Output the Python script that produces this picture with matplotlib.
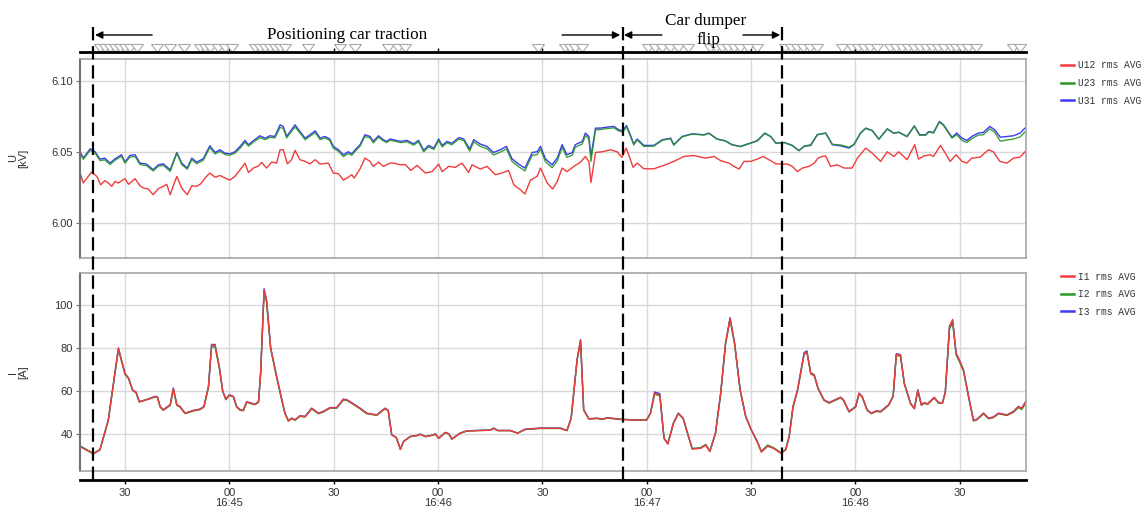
import matplotlib
matplotlib.use("Agg")
import matplotlib.pyplot as plt
from matplotlib.lines import Line2D
from matplotlib.markers import MarkerStyle
from matplotlib.transforms import Affine2D, blended_transform_factory


# time axis: seconds after 16:44:00
T_START, T_END = 17.06, 289.1
TICKS = [30, 60, 90, 120, 150, 180, 210, 240, 270]
TICK_LABELS = ["30", "00\n16:45", "30", "00\n16:46", "30", "00\n16:47",
               "30", "00\n16:48", "30"]
PHASE_LINES = [20.8, 173.1, 218.8]

# event markers on the strip above the voltage panel
EVENTS = [22.8, 24.3, 25.7, 27.1, 28.6, 30.0, 31.5, 33.5,
          39.2, 42.9, 47.0,
          51.6, 53.0, 54.4, 56.7, 58.8, 60.8,
          67.4, 68.8, 70.3, 71.7, 73.1, 74.6, 76.0,
          82.6, 91.8, 96.1, 105.6, 108.5, 110.5,
          148.8, 156.5, 158.0, 159.4, 161.4,
          180.4, 182.4, 184.4, 186.7, 189.0, 191.9,
          198.2, 199.9, 201.7, 203.4, 205.1, 206.9, 209.2, 211.8,
          219.8, 221.5, 223.3, 225.0, 227.0, 229.0,
          236.2, 239.0, 240.8, 242.5, 244.2, 246.3,
          250.0, 251.8, 253.5, 255.2, 257.0, 258.7, 260.4, 262.2,
          263.9, 265.6, 267.4, 269.1, 270.8, 272.5, 274.6,
          285.4, 287.4]

# voltage U12 [kV]
U12_T = [17.1, 18.0, 20.4, 21.9, 23.0, 24.2, 25.2, 26.2, 27.1, 28.1, 30.0, 31.0,
         32.9, 34.3, 35.3, 36.7, 38.1, 39.6, 41.0, 42.0, 43.0, 44.1, 44.9, 46.3,
         47.9, 49.2, 50.6, 51.8, 53.0, 54.4, 55.9, 57.3, 58.8, 60.2, 61.6, 63.1,
         64.5, 65.5, 66.9, 68.4, 69.3, 70.7, 72.2, 73.6, 74.6, 75.5, 76.7, 77.9,
         78.9, 80.3, 81.8, 83.2, 84.7, 86.1, 88.5, 89.9, 91.4, 92.8, 94.2, 95.2,
         95.9, 97.6, 99.0, 100.5, 101.4, 102.9, 104.3, 106.2, 107.2, 109.2, 110.6,
         112.2, 114.0, 116.4, 118.3, 120.2, 121.2, 123.1, 125.0, 126.9, 128.8,
         129.8, 132.2, 134.1, 136.5, 138.4, 140.3, 141.8, 143.7, 145.0, 146.6,
         148.5, 149.5, 151.4, 153.0, 154.3, 155.7, 157.1, 159.1, 161.0, 162.4,
         163.4, 164.0, 165.3, 167.2, 169.6, 171.5, 172.9, 174.1, 175.2, 176.1,
         177.3, 179.2, 182.1, 185.0, 187.8, 190.7, 193.6, 196.9, 199.4, 201.3,
         203.7, 205.1, 206.6, 208.0, 209.9, 211.8, 213.5, 215.7, 217.2, 218.6,
         220.5, 221.9, 223.4, 224.8, 226.7, 228.2, 229.3, 230.5, 231.5, 232.9,
         234.8, 236.8, 239.1, 240.6, 243.0, 244.9, 247.3, 249.2, 251.1, 252.5,
         254.9, 257.1, 258.2, 259.7, 261.6, 262.5, 264.5, 265.9, 267.3, 269.0,
         270.7, 272.1, 273.5, 275.9, 278.3, 279.7, 281.6, 283.6, 285.5, 287.4,
         288.8]
U12 = [6.0350, 6.0280, 6.0357, 6.0326, 6.0267, 6.0296, 6.0280, 6.0256, 6.0290,
       6.0280, 6.0310, 6.0270, 6.0310, 6.0260, 6.0244, 6.0237, 6.0197, 6.0240,
       6.0256, 6.0270, 6.0197, 6.0274, 6.0326, 6.0244, 6.0197, 6.0260, 6.0256,
       6.0274, 6.0314, 6.0350, 6.0320, 6.0333, 6.0314, 6.0300, 6.0326, 6.0373,
       6.0420, 6.0354, 6.0385, 6.0400, 6.0425, 6.0385, 6.0427, 6.0420, 6.0514,
       6.0514, 6.0415, 6.0444, 6.0510, 6.0444, 6.0432, 6.0415, 6.0444, 6.0413,
       6.0420, 6.0350, 6.0345, 6.0300, 6.0320, 6.0338, 6.0314, 6.0380, 6.0455,
       6.0432, 6.0397, 6.0427, 6.0397, 6.0420, 6.0420, 6.0408, 6.0410, 6.0368,
       6.0404, 6.0350, 6.0360, 6.0413, 6.0360, 6.0397, 6.0390, 6.0420, 6.0354,
       6.0408, 6.0378, 6.0397, 6.0338, 6.0350, 6.0368, 6.0267, 6.0232, 6.0202,
       6.0300, 6.0326, 6.0385, 6.0280, 6.0237, 6.0290, 6.0385, 6.0360, 6.0397,
       6.0427, 6.0467, 6.0432, 6.0283, 6.0495, 6.0500, 6.0514, 6.0500, 6.0460,
       6.0526, 6.0455, 6.0390, 6.0420, 6.0380, 6.0380, 6.0404, 6.0432, 6.0467,
       6.0474, 6.0455, 6.0467, 6.0437, 6.0420, 6.0397, 6.0378, 6.0432, 6.0432,
       6.0448, 6.0467, 6.0437, 6.0415, 6.0413, 6.0413, 6.0397, 6.0360, 6.0385,
       6.0397, 6.0420, 6.0455, 6.0467, 6.0470, 6.0397, 6.0408, 6.0385, 6.0385,
       6.0455, 6.0526, 6.0490, 6.0432, 6.0500, 6.0467, 6.0500, 6.0444, 6.0550,
       6.0448, 6.0470, 6.0479, 6.0467, 6.0545, 6.0490, 6.0432, 6.0479, 6.0432,
       6.0420, 6.0455, 6.0462, 6.0514, 6.0500, 6.0432, 6.0420, 6.0455, 6.0462,
       6.0500]

# voltage U23 and U31 [kV], read at the same instants
U_T = [17.1, 18.0, 20.0, 21.4, 22.8, 24.2, 25.7, 27.1, 29.0, 30.0, 31.4, 32.9,
       34.3, 36.2, 38.1, 39.6, 41.0, 43.0, 44.9, 46.3, 47.9, 49.2, 50.6, 52.5,
       54.4, 55.9, 57.3, 58.8, 60.2, 61.6, 63.1, 64.5, 65.5, 66.9, 68.8, 70.3,
       71.7, 73.1, 74.6, 75.5, 76.5, 77.5, 78.9, 80.3, 81.8, 83.2, 84.7, 86.1,
       87.5, 88.9, 89.9, 91.4, 92.8, 94.2, 95.2, 96.2, 97.6, 99.0, 100.5, 101.4,
       102.9, 104.3, 105.3, 106.2, 107.2, 109.2, 111.1, 113.0, 114.4, 115.9,
       117.3, 118.8, 120.2, 121.2, 122.6, 124.0, 126.0, 127.4, 129.1, 130.3,
       132.2, 134.1, 136.0, 137.9, 139.7, 141.3, 143.2, 145.0, 147.1, 148.5,
       149.5, 150.9, 152.8, 154.3, 155.7, 157.1, 158.6, 159.5, 161.5, 162.4,
       163.4, 164.0, 165.3, 166.7, 168.6, 170.6, 172.0, 173.2, 174.2, 175.3,
       176.3, 177.3, 179.2, 182.1, 184.5, 186.9, 187.8, 190.2, 193.1, 196.5,
       197.9, 200.3, 202.6, 204.6, 207.0, 208.9, 211.8, 214.0, 215.7, 217.2,
       219.6, 221.9, 223.8, 225.3, 227.2, 229.1, 231.5, 233.4, 235.8, 238.2,
       239.6, 241.5, 243.0, 244.9, 246.8, 249.2, 251.1, 252.5, 254.9, 257.0,
       258.5, 260.2, 261.1, 262.5, 264.2, 265.4, 267.8, 269.2, 270.7, 272.1,
       273.5, 275.4, 276.8, 278.7, 280.1, 281.7, 283.6, 285.5, 287.4, 288.8]
U31 = [6.0500, 6.0455, 6.0521, 6.0500, 6.0448, 6.0455, 6.0420, 6.0450, 6.0479,
       6.0427, 6.0474, 6.0479, 6.0420, 6.0413, 6.0373, 6.0408, 6.0415, 6.0373,
       6.0495, 6.0420, 6.0385, 6.0455, 6.0427, 6.0450, 6.0542, 6.0495, 6.0514,
       6.0490, 6.0486, 6.0500, 6.0538, 6.0580, 6.0550, 6.0578, 6.0613, 6.0596,
       6.0613, 6.0608, 6.0690, 6.0679, 6.0608, 6.0643, 6.0690, 6.0643, 6.0596,
       6.0620, 6.0648, 6.0596, 6.0608, 6.0590, 6.0538, 6.0514, 6.0479, 6.0500,
       6.0486, 6.0514, 6.0550, 6.0620, 6.0608, 6.0573, 6.0613, 6.0585, 6.0573,
       6.0590, 6.0585, 6.0573, 6.0580, 6.0556, 6.0580, 6.0510, 6.0545, 6.0526,
       6.0590, 6.0545, 6.0573, 6.0560, 6.0600, 6.0590, 6.0520, 6.0585, 6.0554,
       6.0538, 6.0495, 6.0514, 6.0538, 6.0450, 6.0413, 6.0385, 6.0495, 6.0500,
       6.0538, 6.0450, 6.0408, 6.0455, 6.0550, 6.0479, 6.0495, 6.0550, 6.0573,
       6.0632, 6.0608, 6.0467, 6.0667, 6.0667, 6.0674, 6.0679, 6.0655, 6.0648,
       6.0686, 6.0620, 6.0556, 6.0590, 6.0545, 6.0545, 6.0585, 6.0596, 6.0550,
       6.0608, 6.0627, 6.0620, 6.0632, 6.0590, 6.0578, 6.0550, 6.0538, 6.0554,
       6.0578, 6.0632, 6.0608, 6.0561, 6.0566, 6.0545, 6.0509, 6.0538, 6.0545,
       6.0620, 6.0632, 6.0550, 6.0542, 6.0526, 6.0550, 6.0632, 6.0667, 6.0650,
       6.0590, 6.0662, 6.0632, 6.0639, 6.0608, 6.0683, 6.0620, 6.0620, 6.0643,
       6.0636, 6.0714, 6.0690, 6.0603, 6.0632, 6.0596, 6.0580, 6.0608, 6.0632,
       6.0636, 6.0679, 6.0655, 6.0603, 6.0608, 6.0613, 6.0632, 6.0667]
U23 = [6.0492, 6.0447, 6.0510, 6.0492, 6.0438, 6.0443, 6.0410, 6.0440, 6.0468,
       6.0420, 6.0462, 6.0466, 6.0410, 6.0402, 6.0365, 6.0398, 6.0404, 6.0362,
       6.0490, 6.0410, 6.0377, 6.0445, 6.0416, 6.0440, 6.0530, 6.0485, 6.0503,
       6.0480, 6.0476, 6.0490, 6.0525, 6.0568, 6.0540, 6.0567, 6.0600, 6.0586,
       6.0602, 6.0598, 6.0672, 6.0665, 6.0598, 6.0632, 6.0675, 6.0633, 6.0585,
       6.0610, 6.0635, 6.0586, 6.0598, 6.0580, 6.0525, 6.0503, 6.0466, 6.0488,
       6.0475, 6.0503, 6.0540, 6.0608, 6.0598, 6.0563, 6.0603, 6.0577, 6.0565,
       6.0582, 6.0577, 6.0565, 6.0571, 6.0547, 6.0571, 6.0500, 6.0535, 6.0516,
       6.0580, 6.0535, 6.0563, 6.0550, 6.0590, 6.0580, 6.0505, 6.0570, 6.0538,
       6.0522, 6.0478, 6.0497, 6.0520, 6.0432, 6.0395, 6.0365, 6.0476, 6.0480,
       6.0518, 6.0430, 6.0388, 6.0435, 6.0530, 6.0460, 6.0476, 6.0532, 6.0555,
       6.0615, 6.0592, 6.0432, 6.0655, 6.0657, 6.0664, 6.0669, 6.0646, 6.0640,
       6.0678, 6.0612, 6.0548, 6.0583, 6.0538, 6.0540, 6.0581, 6.0593, 6.0547,
       6.0605, 6.0625, 6.0618, 6.0630, 6.0588, 6.0576, 6.0548, 6.0536, 6.0552,
       6.0576, 6.0630, 6.0606, 6.0559, 6.0564, 6.0543, 6.0507, 6.0540, 6.0550,
       6.0622, 6.0632, 6.0553, 6.0548, 6.0532, 6.0552, 6.0630, 6.0665, 6.0648,
       6.0588, 6.0660, 6.0630, 6.0637, 6.0606, 6.0681, 6.0616, 6.0616, 6.0640,
       6.0632, 6.0710, 6.0685, 6.0597, 6.0620, 6.0580, 6.0565, 6.0592, 6.0618,
       6.0620, 6.0662, 6.0638, 6.0575, 6.0583, 6.0590, 6.0605, 6.0640]

# phase currents [A]
I_T = [17.1, 20.9, 22.8, 25.2, 28.1, 30.0, 31.0, 32.2, 33.2, 34.1, 36.2, 38.6,
       39.3, 40.1, 41.0, 43.0, 43.9, 44.9, 45.8, 47.3, 49.7, 51.6, 52.7, 54.0,
       54.9, 55.9, 57.1, 58.1, 59.0, 60.0, 61.2, 62.1, 63.1, 64.0, 65.0, 66.4,
       67.4, 68.4, 69.0, 70.0, 70.7, 71.9, 73.6, 75.1, 76.0, 77.0, 77.9, 78.9,
       80.3, 81.8, 83.7, 85.6, 87.0, 89.0, 90.9, 92.8, 93.8, 95.7, 97.6, 99.5,
       102.4, 104.8, 105.7, 106.7, 108.0, 109.2, 110.1, 112.0, 114.0, 114.9,
       116.4, 118.8, 119.2, 120.2, 122.1, 123.1, 124.0, 126.4, 128.3, 131.2,
       135.1, 136.0, 137.2, 140.8, 142.9, 145.1, 149.5, 155.2, 157.1, 158.3,
       160.0, 161.0, 161.9, 163.4, 165.8, 167.2, 168.7, 172.5, 176.3, 180.0,
       181.1, 182.3, 183.8, 185.0, 186.1, 187.7, 189.1, 190.5, 193.1, 195.5,
       197.0, 198.2, 199.8, 201.3, 202.7, 204.0, 205.3, 206.9, 208.5, 210.1,
       211.8, 213.0, 214.8, 216.5, 218.6, 220.0, 221.0, 222.1, 223.4, 225.3,
       226.1, 227.2, 228.2, 229.3, 231.0, 232.5, 235.8, 236.6, 238.2, 240.1,
       241.1, 242.0, 243.4, 244.6, 246.1, 247.3, 249.6, 250.9, 251.8, 253.0,
       254.1, 255.9, 257.0, 258.0, 259.0, 259.9, 260.8, 262.7, 264.0, 265.1,
       265.9, 267.1, 268.0, 269.0, 269.9, 271.1, 272.6, 274.0, 275.0, 276.9,
       278.3, 279.7, 281.2, 283.6, 285.5, 286.9, 287.9, 289.1]
I1 = [34.3, 30.9, 32.8, 46.6, 79.8, 68.0, 66.0, 60.5, 59.4, 55.0, 56.0, 57.4,
      57.4, 52.8, 51.3, 53.6, 61.3, 53.6, 52.8, 49.7, 51.0, 51.6, 52.8, 62.0,
      81.3, 81.3, 71.3, 60.0, 56.2, 58.2, 57.4, 52.8, 51.3, 51.0, 55.0, 54.3,
      53.9, 55.0, 68.2, 106.8, 102.0, 79.8, 66.7, 55.9, 49.7, 46.2, 47.4, 46.6,
      48.5, 48.2, 52.0, 49.7, 50.5, 52.3, 52.3, 56.2, 55.9, 54.0, 52.0, 49.7,
      48.9, 52.0, 51.0, 39.7, 38.5, 33.0, 36.6, 38.9, 39.4, 40.0,
      38.9, 39.7, 40.2, 38.1, 40.8, 40.2, 37.7, 40.5, 41.5, 41.7,
      41.9, 42.8, 41.7, 41.7, 40.5, 42.3, 42.8, 42.8, 41.7, 47.4,
      74.4, 83.6, 51.3, 47.1, 47.4, 46.9, 47.6, 46.9, 46.6, 46.6,
      49.7, 59.0, 58.2, 38.1, 35.5, 45.1, 49.7, 47.4, 33.2, 33.5,
      35.0, 32.0, 40.5, 59.0, 82.1, 93.7, 82.1, 60.5, 48.2, 42.0,
      36.6, 31.8, 34.5, 33.5, 31.2, 32.8, 38.9, 52.8, 60.5, 77.5,
      78.2, 68.2, 67.4, 61.3, 55.9, 54.6, 57.1, 55.9, 50.5, 52.8,
      59.0, 57.4, 51.3, 49.7, 50.8, 50.5, 53.6, 57.7, 77.0, 76.7,
      63.6, 54.3, 52.0, 60.5, 53.6, 54.6, 54.0, 57.0, 54.6, 54.6,
      59.7, 89.8, 93.2, 77.5, 74.4, 69.8, 57.4, 46.3, 46.9, 49.7,
      47.4, 47.9, 49.7, 48.9, 50.5, 52.8, 52.0, 55.3]
I2 = [34.6, 31.2, 32.9, 46.4, 79.2, 67.6, 65.8, 60.3, 59.2, 55.0, 56.0, 57.2,
      57.2, 52.6, 51.1, 53.4, 60.8, 53.4, 52.6, 49.6, 50.8, 51.4, 52.6, 61.6,
      80.6, 80.4, 70.8, 59.8, 56.0, 58.0, 57.2, 52.6, 51.1, 50.9, 54.8, 54.1,
      53.7, 54.8, 67.8, 105.8, 101.2, 79.4, 66.5, 55.7, 49.6, 46.1, 47.3, 46.5,
      48.3, 48.0, 51.8, 49.5, 50.3, 52.1, 52.1, 55.9, 55.7, 53.8, 51.8, 49.5,
      48.8, 51.8, 50.8, 39.7, 38.5, 33.1, 36.6, 38.9, 39.4, 40.0,
      38.9, 39.7, 40.2, 38.1, 40.8, 40.2, 37.8, 40.5, 41.5, 41.7,
      41.9, 42.7, 41.7, 41.7, 40.5, 42.2, 42.7, 42.7, 41.7, 47.3,
      74.0, 83.0, 51.2, 47.1, 47.3, 46.9, 47.5, 46.9, 46.6, 46.6,
      49.6, 58.6, 57.8, 38.2, 35.7, 45.0, 49.5, 47.3, 33.4, 33.8,
      35.3, 32.3, 40.4, 58.7, 81.6, 93.1, 81.7, 60.3, 48.1, 42.0,
      36.7, 32.1, 35.0, 33.8, 31.5, 33.0, 38.9, 52.5, 60.2, 77.0,
      77.8, 67.9, 67.1, 61.1, 55.7, 54.4, 56.9, 55.7, 50.3, 52.6,
      58.7, 57.2, 51.1, 49.5, 50.6, 50.3, 53.4, 57.4, 76.4, 76.2,
      63.3, 54.1, 51.8, 60.2, 53.4, 54.4, 53.8, 56.8, 54.4, 54.4,
      59.3, 88.6, 91.8, 76.8, 73.8, 69.3, 57.1, 46.2, 46.7, 49.5,
      47.2, 47.7, 49.5, 48.7, 50.2, 52.3, 51.5, 54.6]
I3 = [34.4, 31.0, 32.8, 46.7, 80.0, 68.2, 66.1, 60.6, 59.5, 55.1, 56.1, 57.5,
      57.5, 52.9, 51.4, 53.7, 61.4, 53.7, 52.9, 49.8, 51.1, 51.7, 52.9, 62.2,
      81.6, 81.6, 71.5, 60.1, 56.3, 58.3, 57.5, 52.9, 51.4, 51.1, 55.1, 54.4,
      54.0, 55.1, 68.5, 107.4, 102.4, 80.0, 66.9, 56.0, 49.8, 46.3, 47.5, 46.7,
      48.6, 48.3, 52.1, 49.8, 50.6, 52.4, 52.4, 56.3, 56.0, 54.1, 52.1, 49.8,
      49.0, 52.1, 51.1, 39.8, 38.6, 33.1, 36.7, 39.0, 39.5, 40.1,
      39.0, 39.8, 40.3, 38.2, 40.9, 40.3, 37.8, 40.6, 41.6, 41.8,
      42.0, 42.9, 41.8, 41.8, 40.6, 42.4, 42.9, 42.9, 41.8, 47.5,
      74.6, 83.8, 51.4, 47.2, 47.5, 47.0, 47.7, 47.0, 46.7, 46.7,
      49.8, 59.6, 58.8, 38.2, 35.6, 45.2, 49.8, 47.5, 33.3, 33.6,
      35.1, 32.1, 40.6, 59.2, 82.4, 94.0, 82.3, 60.6, 48.3, 42.1,
      36.7, 31.9, 34.6, 33.6, 31.3, 32.9, 39.0, 52.9, 60.7, 77.9,
      78.6, 68.4, 67.6, 61.4, 56.0, 54.7, 57.2, 56.0, 50.6, 52.9,
      59.1, 57.5, 51.4, 49.8, 50.9, 50.6, 53.7, 57.8, 77.3, 76.9,
      63.7, 54.4, 52.1, 60.6, 53.7, 54.7, 54.1, 57.1, 54.7, 54.7,
      59.8, 90.1, 92.6, 77.7, 74.6, 70.0, 57.5, 46.4, 47.0, 49.8,
      47.5, 48.0, 49.8, 49.0, 50.6, 52.9, 52.1, 55.4]

RED, GREEN, BLUE = "#f03c3c", "#2a962a", "#3a3af5"
TXT = "#333333"
TICK_FONT = "Liberation Sans"
MONO = "Liberation Mono"
SERIF = "Liberation Serif"

W, H = 1142, 509


def box(x0, y0, x1, y1):
    # pixel box (top-left origin) -> figure fraction rect
    return [x0 / W, 1 - y1 / H, (x1 - x0) / W, (y1 - y0) / H]


fig = plt.figure(figsize=(W / 100, H / 100), dpi=100)
ax_u = fig.add_axes(box(80, 59, 1026, 258))
ax_i = fig.add_axes(box(80, 273, 1026, 471))
ax_ev = fig.add_axes(box(80, 40, 1026, 52))
ax_t = fig.add_axes(box(80, 479.5, 1026, 480))

for ax in (ax_u, ax_i):
    ax.set_xlim(T_START, T_END)
    ax.set_xticks(TICKS)
    ax.tick_params(axis="x", length=0, labelbottom=False)
    ax.grid(True, color="#d9d9d9", linewidth=1.0)
    ax.set_axisbelow(True)
    for sp in ax.spines.values():
        sp.set_color("#a6a6a6")
        sp.set_linewidth(1.2)
    ax.spines["left"].set_color("#707070")
    ax.spines["left"].set_linewidth(1.5)
    ax.tick_params(axis="y", direction="out", length=3, color="#707070",
                   labelsize=8, labelcolor=TXT, pad=2)

ax_u.plot(U12_T, U12, color=RED, lw=1.0, label="U12 rms AVG")
ax_u.plot(U_T, U31, color=BLUE, lw=1.0, label="U31 rms AVG", zorder=2.1)
ax_u.plot(U_T, U23, color=GREEN, lw=1.0, label="U23 rms AVG", alpha=0.9, zorder=2.2)
ax_u.set_ylim(5.975, 6.1155)
ax_u.set_yticks([6.00, 6.05, 6.10])
ax_u.set_yticklabels(["6.00", "6.05", "6.10"], family=TICK_FONT)
ax_u.set_ylabel("U\n[kV]", fontsize=8, color=TXT, family=TICK_FONT, linespacing=1.0)
ax_u.yaxis.set_label_coords(-0.055, 0.5)

ax_i.plot(I_T, I3, color=BLUE, lw=1.0, label="I3 rms AVG")
ax_i.plot(I_T, I2, color=GREEN, lw=1.0, label="I2 rms AVG")
ax_i.plot(I_T, I1, color=RED, lw=1.0, label="I1 rms AVG")
ax_i.set_ylim(23, 114.7)
ax_i.set_yticks([40, 60, 80, 100])
ax_i.set_yticklabels(["40", "60", "80", "100"], family=TICK_FONT)
ax_i.set_ylabel("I\n[A]", fontsize=8, color=TXT, family=TICK_FONT, linespacing=1.0)
ax_i.yaxis.set_label_coords(-0.055, 0.5)


def side_legend(ax, order, top_px):
    handles, labels = ax.get_legend_handles_labels()
    lut = dict(zip(labels, handles))
    hs = [Line2D([], [], color=lut[k].get_color(), lw=1.8) for k in order]
    leg = ax.legend(hs, order, loc="upper left",
                    bbox_to_anchor=(1061 / W, 1 - top_px / H),
                    bbox_transform=fig.transFigure, frameon=False,
                    borderpad=0, borderaxespad=0, handlelength=1.35,
                    handletextpad=0.4, labelspacing=0.8,
                    prop={"family": MONO, "size": 6.9})
    for t in leg.get_texts():
        t.set_color(TXT)


side_legend(ax_u, ["U12 rms AVG", "U23 rms AVG", "U31 rms AVG"], 60.5)
side_legend(ax_i, ["I1 rms AVG", "I2 rms AVG", "I3 rms AVG"], 271.5)

# event strip
ax_ev.set_xlim(T_START, T_END)
ax_ev.set_ylim(0, 1)
for k in ("top", "left", "right"):
    ax_ev.spines[k].set_visible(False)
ax_ev.spines["bottom"].set_linewidth(2.0)
ax_ev.spines["bottom"].set_color("black")
ax_ev.set_xticks(TICKS)
ax_ev.set_yticks([])
ax_ev.tick_params(axis="x", direction="in", length=3, width=1, labelbottom=False)
ax_ev.patch.set_visible(False)
tri = MarkerStyle("v", transform=Affine2D().scale(1.0, 0.6))
ax_ev.plot(EVENTS, [0.36] * len(EVENTS), linestyle="none", marker=tri,
           ms=9, mfc="white", mec="#a8a8a8", mew=0.8, clip_on=False)

# time axis
ax_t.set_xlim(T_START, T_END)
for k in ("top", "left", "right"):
    ax_t.spines[k].set_visible(False)
ax_t.spines["bottom"].set_linewidth(2.0)
ax_t.spines["bottom"].set_color("black")
ax_t.set_yticks([])
ax_t.set_xticks(TICKS)
ax_t.set_xticklabels(TICK_LABELS, fontsize=8, color=TXT, family=TICK_FONT,
                     linespacing=1.0)
ax_t.tick_params(axis="x", direction="out", length=3, width=1, pad=3)
ax_t.patch.set_visible(False)

# phase boundaries and annotations
trans = blended_transform_factory(ax_i.transData, fig.transFigure)
for t in PHASE_LINES:
    fig.add_artist(Line2D([t, t], [1 - 27 / H, 1 - 485 / H], transform=trans,
                          color="black", lw=1.6, linestyle=(0, (6, 2.6))))

arrow_kw = dict(arrowstyle="-|>", color="black", lw=1.0, mutation_scale=11,
                shrinkA=0, shrinkB=0)
for tail, head in [(37.8, 21.4), (155.7, 172.4), (184.4, 173.5), (207.7, 218.4)]:
    ax_i.annotate("", xy=(head, 1 - 35 / H), xytext=(tail, 1 - 35 / H),
                  xycoords=trans, textcoords=trans, arrowprops=arrow_kw,
                  annotation_clip=False)

fig.text(347 / W, 1 - 35 / H, "Positioning car traction", ha="center",
         va="center", family=SERIF, fontsize=12.3)
fig.text(706 / W, 1 - 21 / H, "Car dumper", ha="center", va="center",
         family=SERIF, fontsize=12.3)
fig.text(708 / W, 1 - 40 / H, "flip", ha="center", va="center",
         family=SERIF, fontsize=12.3)

fig.savefig("out.png", dpi=100)
